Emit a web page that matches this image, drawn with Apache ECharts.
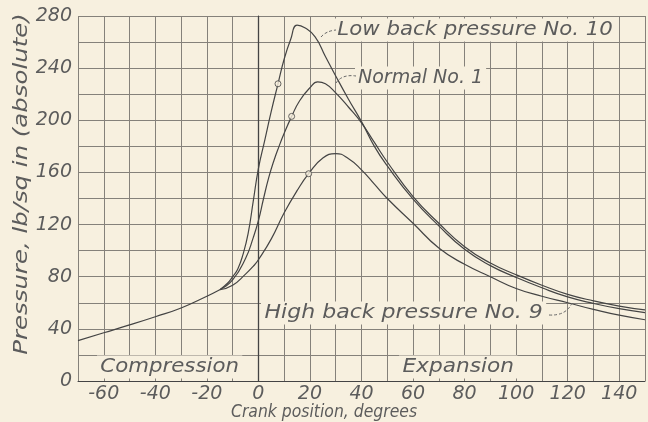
<!DOCTYPE html>
<html>
<head>
<meta charset="utf-8">
<script src="https://cdn.jsdelivr.net/npm/echarts@6/dist/echarts.min.js"></script>
<style>
  html, body { margin: 0; padding: 0; background: #f7f0df; }
  #chart { width: 648px; height: 422px; }
</style>
</head>
<body>
<div id="chart"></div>
<script>
// shared compression stroke, up to where the three curves split
const compX = [-70, -60, -50, -40, -30, -20, -15];
const compY = [31, 37, 43, 49.3, 56, 65, 70];

const lowX = [-15, -12, -10, -8, -6, -4, -2, 0, 2.5, 5, 7.6, 10, 12.5, 15, 18, 22, 26, 30, 35, 40, 45, 50, 60, 70, 80, 90, 100, 110, 120, 130, 140, 150];
const lowY = [70, 75, 80, 86, 97, 113, 138, 163, 185, 207, 228, 247, 262, 273, 271, 264, 249, 234, 216, 199, 180, 165, 139.5, 119, 101, 88.5, 79.5, 71.5, 64.5, 59.5, 55.5, 52.5];

const normalX = [-15, -10, -5, -2, 0, 2, 4, 6, 8, 10, 12.9, 16, 20, 23, 26, 30, 35, 40, 45, 50, 60, 70, 80, 90, 100, 110, 120, 130, 140, 150];
const normalY = [70, 77.5, 94, 110, 123, 140, 156, 169, 180, 190, 203, 215, 225, 229.5, 228, 221, 210, 198, 183, 168, 141.5, 121, 103, 90.5, 81.5, 73.5, 66.5, 61.5, 57.5, 54.5];

const highX = [-15, -10, -5, -2, 0, 5, 10, 15, 19.5, 25, 30, 35, 40, 45, 50, 60, 70, 80, 90, 100, 110, 120, 130, 140, 150];
const highY = [70, 73.5, 82, 88, 93, 109, 129, 146, 159, 171, 174.5, 170.5, 162, 151, 140, 121, 102, 89.5, 80, 71, 65, 60, 55, 50.5, 47];

// the open circles drawn on the rising limbs
const markX = [7.6, 12.9, 19.5];
const markY = [228, 203, 159];

const xTicks = [-60, -40, -20, 0, 20, 40, 60, 80, 100, 120, 140];
const yTicks = [0, 40, 80, 120, 160, 200, 240, 280];

const ink = '#444';
const paper = '#f7f0df';
const grey = '#5c5c5c';
const font = '"DejaVu Sans", sans-serif';

const pairs = (xs, ys) => xs.map((x, i) => [x, ys[i]]);

const chart = echarts.init(document.getElementById('chart'));

const curve = (name, xs, ys) => ({
  name,
  type: 'line',
  data: pairs(xs, ys),
  smooth: 0.5,
  showSymbol: false,
  lineStyle: { color: ink, width: 1.2 },
  silent: true,
  z: 3,
});

const tickText = {
  fontFamily: font,
  fontStyle: 'italic',
  fontSize: 19,
  color: grey,
};

// lettering on the original is wider than DejaVu, so stretch it a little
const label = (text, x, y, sx, opts) => ({
  type: 'text',
  x, y,
  z: 50,
  scaleX: sx,
  rotation: (opts && opts.rotation) || 0,
  style: {
    text,
    font: 'italic ' + ((opts && opts.size) || 19) + 'px ' + font,
    fill: grey,
    align: (opts && opts.align) || 'left',
    verticalAlign: 'middle',
    backgroundColor: opts && opts.plain ? null : paper,
    padding: [2, 3],
  },
});

const leader = (pts) => ({
  type: 'bezierCurve',
  z: 50,
  shape: { x1: pts[0], y1: pts[1], cpx1: pts[2], cpy1: pts[3], x2: pts[4], y2: pts[5] },
  style: { stroke: '#666', lineWidth: 1, lineDash: [3, 2], fill: null },
});

chart.setOption({
  backgroundColor: paper,
  animation: false,
  grid: { left: 78, right: -10, top: 16, bottom: 41 },
  xAxis: {
    type: 'value',
    min: -70,
    max: 150,
    interval: 10,
    axisLine: { show: true, lineStyle: { color: ink, width: 1 } },
    axisTick: { show: false },
    splitLine: { lineStyle: { color: '#85817a', width: 1 } },
    axisLabel: {
      ...tickText,
      margin: 4,
      formatter: v => (xTicks.includes(v) ? String(v) : ''),
    },
  },
  yAxis: {
    type: 'value',
    min: 0,
    max: 280,
    interval: 20,
    axisLine: { show: true, lineStyle: { color: ink, width: 1 } },
    axisTick: { show: false },
    splitLine: { lineStyle: { color: '#85817a', width: 1 } },
    axisLabel: {
      ...tickText,
      margin: 6,
      formatter: v => (yTicks.includes(v) ? String(v) : ''),
    },
  },
  series: [
    {
      ...curve('Compression', compX, compY),
      markLine: {
        silent: true,
        symbol: 'none',
        label: { show: false },
        lineStyle: { color: '#444', width: 1.3, type: 'solid' },
        data: [{ xAxis: 0 }],
      },
    },
    curve('Low back pressure No. 10', lowX, lowY),
    curve('Normal No. 1', normalX, normalY),
    curve('High back pressure No. 9', highX, highY),
    {
      type: 'scatter',
      data: pairs(markX, markY),
      symbol: 'circle',
      symbolSize: 6,
      itemStyle: { color: paper, borderColor: ink, borderWidth: 1 },
      silent: true,
      z: 4,
    },
  ],
  graphic: [
    label('Low back pressure No. 10', 334, 30, 1.12),
    leader([321, 37, 326, 31, 336, 30]),
    label('Normal No. 1', 355, 78, 1.0),
    leader([336, 83, 342, 74, 356, 76]),
    label('High back pressure No. 9', 261, 313, 1.16),
    leader([549, 315, 566, 316, 572, 303]),
    label('Compression', 97, 367, 1.12),
    label('Expansion', 399, 367, 1.14),
    label('Crank position, degrees', 324, 413, 0.92, { size: 17, align: 'center', plain: true }),
    label('Pressure, lb/sq in (absolute)', 22, 184, 1.22, { size: 20, align: 'center', plain: true, rotation: Math.PI / 2 }),
  ],
});

window.addEventListener('resize', () => chart.resize());
</script>
</body>
</html>
